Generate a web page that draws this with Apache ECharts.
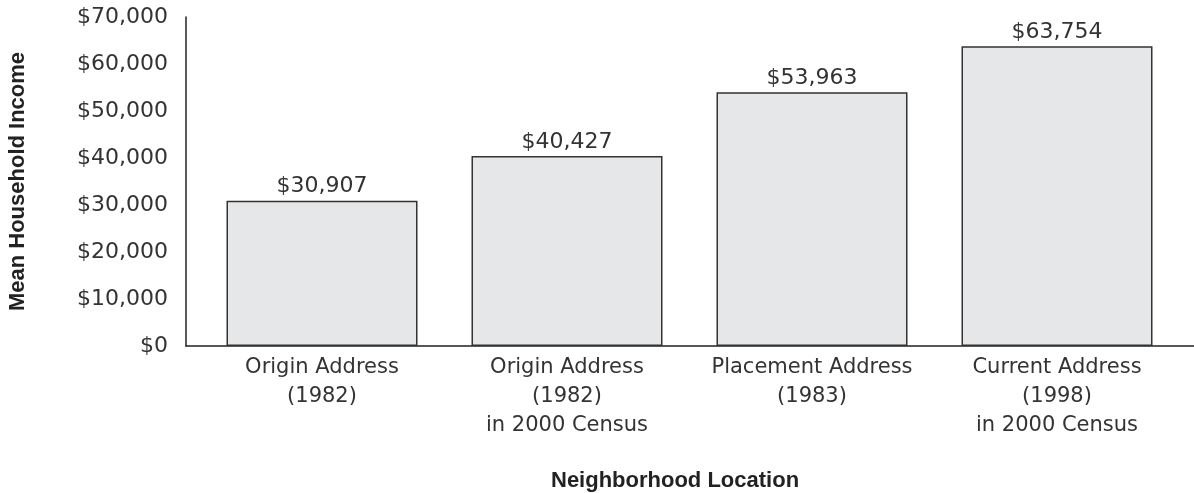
<!DOCTYPE html>
<html>
<head>
	<meta charset="UTF-8">
	<title>Mean Household Income by Neighborhood Location</title>
	<script src="https://cdn.jsdelivr.net/npm/echarts@6/dist/echarts.min.js"></script>
	<style>
		html, body { margin: 0; padding: 0; background: #fff; }
		#chart { width: 1194px; height: 493px; }
	</style>
</head>
<body>
	<div id="chart"></div>
	<script type="text/javascript">
		// data
		var categories = [
			'Origin Address\n(1982)',
			'Origin Address\n(1982)\nin 2000 Census',
			'Placement Address\n(1983)',
			'Current Address\n(1998)\nin 2000 Census'
		];
		var incomes = [30907, 40427, 53963, 63754];
		var yMin = 0, yMax = 70000, yStep = 10000;

		var fontFam = '"DejaVu Sans", sans-serif';
		var nameFam = '"Liberation Sans", Arial, sans-serif';
		var textColor = '#333';

		function money(v) {
			return '$' + String(v).replace(/\B(?=(\d{3})+(?!\d))/g, ',');
		}

		var myChart = echarts.init(document.getElementById('chart'));

		var option = {
			animation: false,
			title: {
				text: 'Neighborhood Location',
				left: 546,
				top: 465,
				textStyle: { fontFamily: nameFam, fontSize: 22, fontWeight: 'bold', color: '#222' }
			},
			grid: [
				// axis frame: y axis and full width baseline
				{ left: 186, right: 0, top: 17, bottom: 147, outerBoundsMode: 'none' },
				// bars
				{ left: 199.5, width: 980, top: 17, bottom: 147, outerBoundsMode: 'none' }
			],
			xAxis: [
				{
					gridIndex: 0, type: 'value', min: 0, max: 1,
					axisLine: { show: true, onZero: false, lineStyle: { color: '#222', width: 1.5 } },
					axisTick: { show: false }, axisLabel: { show: false }, splitLine: { show: false }
				},
				{
					gridIndex: 1, type: 'category', data: categories,
					axisLine: { show: false }, axisTick: { show: false },
					axisLabel: {
						margin: 7, fontFamily: fontFam, fontSize: 21, lineHeight: 29,
						color: textColor, interval: 0
					}
				}
			],
			yAxis: [
				{
					gridIndex: 0, type: 'value', min: yMin, max: yMax, interval: yStep,
					name: 'Mean Household Income',
					nameLocation: 'middle', nameGap: 157,
					nameTextStyle: { fontFamily: nameFam, fontSize: 22, fontWeight: 'bold', color: '#222' },
					axisLine: { show: true, lineStyle: { color: '#222', width: 1.5 } },
					axisTick: { show: false },
					splitLine: { show: false },
					axisLabel: {
						margin: 18, fontFamily: fontFam, fontSize: 22, color: textColor,
						formatter: money
					}
				},
				{
					gridIndex: 1, type: 'value', min: yMin, max: yMax, interval: yStep,
					axisLine: { show: false }, axisTick: { show: false },
					axisLabel: { show: false }, splitLine: { show: false }
				}
			],
			series: [{
				type: 'bar',
				xAxisIndex: 1,
				yAxisIndex: 1,
				data: incomes,
				barWidth: 191,
				itemStyle: { color: '#e6e7e8', borderColor: '#333', borderWidth: 1.5 },
				label: {
					show: true, position: 'top', distance: 3,
					fontFamily: fontFam, fontSize: 22, color: textColor,
					formatter: function (p) { return money(p.value); }
				}
			}]
		};

		myChart.setOption(option);
	</script>
</body>
</html>
